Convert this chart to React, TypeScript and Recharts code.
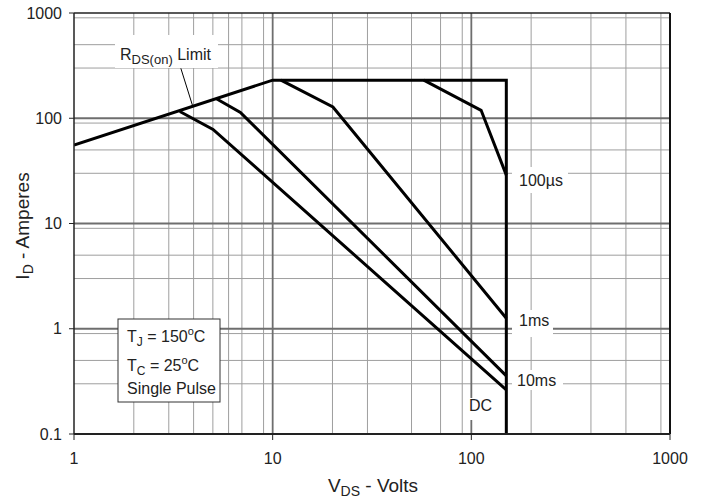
import { CartesianGrid, Line, LineChart, ReferenceLine, XAxis, YAxis } from 'recharts'

const FONT = '"Liberation Sans", Arial, Helvetica, sans-serif'

// axis ticks
const xTicks = [1, 10, 100, 1000]
const yTicks = [0.1, 1, 10, 100, 1000]
const xDecades = [1, 10, 100]
const yDecades = [0.1, 1, 10, 100]
const minorSteps = [2, 3, 4, 5, 6, 7, 8, 9]

// curves: V_DS (volts) vs I_D (amperes)
const limitV = [1, 10, 150, 150]
const limitI = [55.6, 230, 230, 0.1]
const us100V = [57.6, 112, 150]
const us100I = [230, 119, 28.8]
const ms1V = [11, 20.1, 150]
const ms1I = [230, 128, 1.26]
const ms10V = [5.21, 6.88, 150]
const ms10I = [153, 113.5, 0.357]
const dcV = [3.41, 5.01, 150]
const dcI = [116, 78.3, 0.263]
const leaderV = [3.45, 3.96]
const leaderI = [298, 130]

const pts = (v: number[], i: number[]) => v.map((x, k) => ({ v: x, i: i[k] }))

const series = [
  { name: 'limit', data: pts(limitV, limitI) },
  { name: '100us', data: pts(us100V, us100I) },
  { name: '1ms', data: pts(ms1V, ms1I) },
  { name: '10ms', data: pts(ms10V, ms10I) },
  { name: 'dc', data: pts(dcV, dcI) },
]

const minorX = xDecades.flatMap((d) => minorSteps.map((m) => d * m))
const minorY = yDecades.flatMap((d) => minorSteps.map((m) => d * m))
const majorX = xTicks.slice(1, -1)
const majorY = yTicks.slice(1, -1)

const W = 707
const H = 502

export default function App() {
  return (
    <div style={{ position: 'absolute', left: 0, top: 0, width: W, height: H, fontFamily: FONT }}>
      <LineChart width={W} height={H} margin={{ top: 13, right: 37, bottom: 0, left: 0 }}>
        <CartesianGrid stroke="#9e9e9e" strokeWidth={1} horizontalValues={minorY} verticalValues={minorX} />
        <CartesianGrid stroke="#6e6e6e" strokeWidth={1.8} horizontalValues={majorY} verticalValues={majorX} />
        <XAxis
          type="number"
          dataKey="v"
          scale="log"
          domain={[1, 1000]}
          ticks={xTicks}
          allowDataOverflow
          height={68}
          tickSize={6}
          tickMargin={13}
          axisLine={{ stroke: '#222', strokeWidth: 2 }}
          tickLine={{ stroke: '#222' }}
          tick={{ fill: '#222', fontSize: 16, fontFamily: FONT }}
        />
        <YAxis
          type="number"
          dataKey="i"
          scale="log"
          domain={[0.1, 1000]}
          ticks={yTicks}
          allowDataOverflow
          width={74}
          tickSize={5}
          tickMargin={7}
          axisLine={{ stroke: '#222', strokeWidth: 1.5 }}
          tickLine={{ stroke: '#222' }}
          tick={{ fill: '#222', fontSize: 16, fontFamily: FONT }}
        />
        <ReferenceLine y={1000} stroke="#222" strokeWidth={1.5} />
        <ReferenceLine x={1000} stroke="#111" strokeWidth={2} />
        <Line
          data={pts(leaderV, leaderI)}
          dataKey="i"
          stroke="#000"
          strokeWidth={1}
          dot={false}
          activeDot={false}
          isAnimationActive={false}
        />
        {series.map((s) => (
          <Line
            key={s.name}
            data={s.data}
            dataKey="i"
            type="linear"
            stroke="#000"
            strokeWidth={3}
            strokeLinejoin="miter"
            dot={false}
            activeDot={false}
            isAnimationActive={false}
          />
        ))}
      </LineChart>

      <svg
        width={W}
        height={H}
        style={{ position: 'absolute', left: 0, top: 0, pointerEvents: 'none' }}
        fontFamily={FONT}
        fill="#222"
      >
        {/* curve labels */}
        <rect x={115} y={35} width={103} height={33} fill="#fff" />
        <text x={120} y={60} fontSize={16}>
          R<tspan fontSize={13} dy={4}>DS(on)</tspan>
          <tspan dy={-4}> Limit</tspan>
        </text>

        <rect x={512} y={167} width={56} height={26} fill="#fff" />
        <text x={519} y={186} fontSize={16}>100µs</text>

        <rect x={512} y={310} width={41} height={27} fill="#fff" />
        <text x={519} y={326} fontSize={16}>1ms</text>

        <rect x={512} y={370} width={51} height={20} fill="#fff" />
        <text x={517} y={386} fontSize={16}>10ms</text>

        <rect x={467} y={398} width={33} height={22} fill="#fff" />
        <text x={469} y={411} fontSize={16}>DC</text>

        {/* conditions box */}
        <rect x={118} y={319} width={102} height={83} fill="#fff" stroke="#333" strokeWidth={1} />
        <text x={127} y={342} fontSize={16}>
          T<tspan fontSize={12} dy={4}>J</tspan>
          <tspan dy={-4}> = 150</tspan>
          <tspan fontSize={11} dy={-7}>o</tspan>
          <tspan dy={7}>C</tspan>
        </text>
        <text x={127} y={371} fontSize={16}>
          T<tspan fontSize={12} dy={4}>C</tspan>
          <tspan dy={-4}> = 25</tspan>
          <tspan fontSize={11} dy={-7}>o</tspan>
          <tspan dy={7}>C</tspan>
        </text>
        <text x={127} y={394} fontSize={16}>Single Pulse</text>

        {/* axis titles */}
        <text x={373} y={492} fontSize={19} textAnchor="middle">
          V<tspan fontSize={14} dy={4}>DS</tspan>
          <tspan dy={-4}> - Volts</tspan>
        </text>
        <text transform="translate(29,226) rotate(-90)" fontSize={19} textAnchor="middle">
          I<tspan fontSize={14} dy={4}>D</tspan>
          <tspan dy={-4}> - Amperes</tspan>
        </text>
      </svg>
    </div>
  )
}
